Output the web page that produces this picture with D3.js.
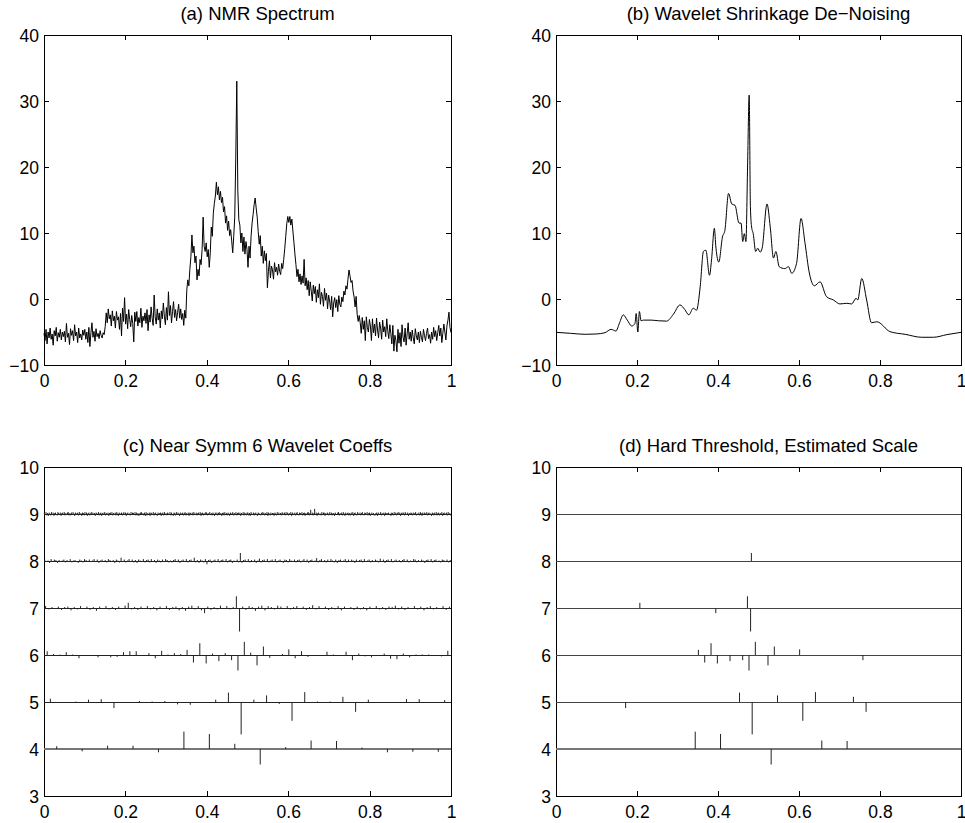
<!DOCTYPE html>
<html><head><meta charset="utf-8">
<script src="https://cdn.jsdelivr.net/npm/d3@7"></script>
<style>body{margin:0;background:#fff}svg{display:block;font-family:"Liberation Sans",Arial,Helvetica,sans-serif}</style>
</head><body>
<script>
// ---------- data ----------
const panelTitles = ["(a) NMR Spectrum", "(b) Wavelet Shrinkage De\u2212Noising", "(c) Near Symm 6 Wavelet Coeffs", "(d) Hard Threshold, Estimated Scale"];
const xTickValues = [0, 0.2, 0.4, 0.6, 0.8, 1];
const yTicksSpectrum = [-10, 0, 10, 20, 30, 40];
const yTicksCoeffs = [3, 4, 5, 6, 7, 8, 9, 10];

// (a) noisy NMR spectrum, evenly spaced on [0,1]
const nmrSpectrum = [
-5.2,-6.3,-4.6,-6.8,-5.0,-5.9,-4.4,-6.1,-5.3,-7.0,-4.8,-5.6,-4.3,-6.4,-5.1,-5.8,-4.6,-6.2,-5.0,-5.7,
-4.9,-6.5,-3.7,-5.8,-5.2,-6.9,-4.5,-5.5,-4.8,-6.3,-3.9,-5.6,-5.0,-6.6,-4.4,-5.9,-5.3,-6.2,-4.7,-5.5,
-4.6,-6.1,-5.0,-6.6,-4.3,-7.2,-5.1,-3.6,-5.8,-4.9,-6.4,-4.5,-5.7,-5.2,-6.0,-4.8,-5.5,-5.9,-5.1,-5.4,
-4.2,-2.1,-3.6,-1.5,-3.0,-2.4,-4.1,-1.8,-3.3,-2.6,-4.4,-1.9,-3.2,-2.7,-4.6,-2.2,-5.6,-1.4,-3.4,0.2,
-3.8,-2.3,-4.5,-1.6,-3.1,-4.2,-2.5,-3.7,-6.5,-2.0,-3.4,-1.9,-4.1,-2.8,-3.6,-1.4,-4.3,-2.6,-3.3,-2.1,
-3.7,-1.6,-4.8,-2.4,-3.5,-1.2,-2.9,-4.0,0.6,-2.7,-3.8,-1.5,-3.2,-2.1,-4.4,-1.8,-3.0,-0.6,-2.6,-3.9,
-1.3,-3.2,1.1,-2.5,-1.0,-3.6,-1.9,-0.4,-2.8,-1.6,-3.3,-2.0,-0.8,-2.9,-1.5,-3.1,-2.2,-4.0,-1.7,-2.9,
1.4,2.9,2.0,4.5,6.4,9.7,7.0,8.0,5.5,6.5,2.9,4.5,3.5,6.0,5.2,7.5,12.4,8.0,7.2,8.5,
6.4,7.5,4.8,7.0,10.9,9.5,13.0,14.5,15.6,17.7,15.8,17.0,15.0,16.3,14.6,15.4,13.2,14.0,11.5,12.6,
10.4,11.8,9.6,10.5,8.8,7.0,9.5,12.4,21.5,33.0,16.5,12.0,11.2,8.5,10.0,7.2,9.4,6.8,8.7,7.5,
4.8,8.0,6.2,9.5,11.5,12.8,14.3,15.3,13.8,12.4,10.2,8.3,9.6,6.5,8.0,5.4,7.3,5.8,6.9,1.7,
4.2,5.8,3.2,5.0,4.4,3.0,5.5,4.1,4.8,3.6,5.3,4.2,3.7,5.4,4.6,6.0,7.6,9.5,11.4,12.5,
11.6,12.5,11.2,12.1,10.3,8.6,6.8,5.2,3.4,4.5,2.6,3.8,2.2,3.5,2.4,6.0,2.0,3.2,1.4,2.8,
0.5,2.6,1.2,-0.3,2.1,0.8,1.9,-0.5,1.4,0.2,2.3,-0.8,1.0,0.4,-1.1,1.6,-0.2,0.9,-1.5,0.6,
-0.3,-1.6,0.4,-2.7,-0.6,0.2,-1.3,-0.1,-1.9,0.5,-0.8,-1.2,0.3,-0.4,1.2,0.6,2.0,1.5,3.0,4.4,
3.5,2.5,2.8,1.2,0.3,-1.2,0.4,-2.3,-3.4,-2.5,-3.6,-5.2,-2.8,-4.6,-3.3,-6.3,-2.7,-4.3,-5.0,-3.1,
-4.1,-6.3,-3.0,-5.1,-3.8,-5.6,-2.9,-4.7,-5.9,-3.5,-4.4,-6.1,-3.2,-5.0,-4.2,-5.7,-3.0,-4.8,-6.0,-3.9,
-5.2,-6.8,-4.0,-7.9,-5.5,-6.3,-8.0,-4.6,-6.7,-5.1,-7.2,-3.9,-5.8,-6.5,-4.4,-7.0,-5.3,-3.6,-6.1,-5.0,
-6.4,-4.7,-5.9,-6.8,-4.5,-5.6,-6.2,-5.0,-6.6,-4.9,-5.8,-6.5,-4.6,-5.5,-6.3,-5.2,-4.4,-6.0,-5.4,-6.7,
-5.0,-6.1,-4.3,-5.7,-4.8,-6.3,-5.1,-4.0,-5.6,-4.4,-6.6,-5.2,-3.8,-5.0,-6.2,-4.1,-3.2,-2.0,-4.3,-5.1
];

// (b) de-noised curve
const denoisedT = [0,0.036,0.072,0.100,0.121,0.136,0.148,0.157,0.166,0.176,0.187,0.195,0.198,0.202,0.206,0.210,0.216,0.235,0.253,0.273,0.290,0.306,0.318,0.328,0.339,0.347,0.356,0.364,0.370,0.379,0.384,0.391,0.395,0.402,0.411,0.417,0.426,0.434,0.442,0.452,0.457,0.461,0.465,0.469,0.473,0.477,0.480,0.483,0.487,0.493,0.498,0.504,0.509,0.521,0.529,0.537,0.543,0.551,0.565,0.574,0.582,0.594,0.605,0.615,0.625,0.638,0.652,0.668,0.685,0.701,0.718,0.730,0.741,0.745,0.755,0.767,0.779,0.792,0.825,0.862,0.903,0.932,0.965,1.0];
const denoisedV = [-5.05,-5.2,-5.35,-5.3,-5.1,-4.6,-4.85,-3.6,-2.4,-3.2,-4.1,-3.7,-2.2,-5.0,-1.9,-3.3,-3.2,-3.2,-3.3,-3.35,-2.3,-0.9,-1.6,-2.4,-1.4,-1.7,1.85,7.2,7.4,3.6,5.9,10.7,7.7,5.6,9.4,10.4,16.0,14.4,14.2,11.5,11.5,8.7,9.9,8.7,20.0,30.9,14.0,10.9,9.9,7.2,7.7,7.1,7.7,14.4,10.9,6.2,7.2,4.9,4.6,4.9,3.9,5.4,12.2,8.4,4.1,2.0,2.6,0.35,-0.15,-0.75,-0.65,-0.75,0.1,-0.15,3.1,-0.15,-3.6,-3.45,-4.95,-5.35,-5.8,-5.8,-5.4,-5.05];

// (c) wavelet coefficients per level, in hundredths of a level unit
const levels = [4, 5, 6, 7, 8, 9];
const coeffs4 = [6,-5,7,7,-7,37,32,11,-33,4,18,17,3,-7,-6,-6];
const coeffs5 = [7,-2,1,5,6,-13,-2,2,1,2,-5,-6,-2,5,20,-69, 5,14,-4,-40,21,1,1,11,-21,5,-2,-2,6,6,-1,4];
const coeffs6 = [8,2,1,6,1,-7,-2,-2,-5,-1,-5,-4,6,8,8,-2, 4,-7,9,1,4,2,11,-16,25,-18,3,-13,4,-11,-33,28,
  5,-22,18,-6,-2,2,12,-7,8,-4,-1,-1,7,1,-2,7, -11,3,-3,-5,-2,3,-8,-9,3,-5,1,1,1,-2,-3,9];
const coeffs7 = [4,-3,2,-2,3,-4,2,3,-5,2,-3,4,-2,3,-4,2, -6,3,-2,4,-3,2,-4,3,-2,5,11,-3,2,-4,3,-2,
  4,-3,2,-5,3,-2,4,-4,2,3,-5,2,-6,3,5,-3, 4,-5,-11,3,-4,2,-3,5,-2,4,-3,2,25,-50,3,-4,
  4,2,-6,3,5,-5,4,2,-3,5,3,-2,4,-3,2,4, -2,3,-4,2,6,-3,4,-2,3,-4,2,-3,4,-5,3,-2,
  2,-4,3,-3,2,-5,3,-2,4,-3,2,-4,3,2,5,-3, 3,-4,2,-2,4,-3,3,-5,2,4,-3,2,-2,4,-4,3];
const coeffs8 = [3,-2,1,-4,4,-1,3,2,-4,2,-2,1,3,-3,2,-1, 4,-3,1,2,-2,-4,3,1,-3,4,2,-1,3,-2,1,4,
  -2,3,-4,1,3,-2,2,-3,4,2,-1,2,-4,3,1,-3, 7,-2,3,-3,1,4,-2,3,-3,2,-4,3,1,-2,4,-3,
  2,3,-3,4,-1,2,-4,3,1,-3,3,-2,4,2,-3,1, -3,2,4,-2,3,-4,1,3,-2,4,-3,2,3,-1,7,-3,
  2,-4,3,1,-3,4,-7,2,3,-4,1,3,-2,4,-3,2, 3,-2,4,-3,2,3,-4,1,-2,3,-3,17,-4,2,3,-1,
  4,-3,2,-2,3,-4,1,5,-3,2,3,-2,4,-3,1,3, -2,4,-3,1,3,-2,-4,3,2,-3,4,1,-2,3,-3,2,
  3,-3,1,4,-2,3,-4,2,3,-2,1,6,-3,2,4,-2, 2,-3,3,-2,4,1,-3,3,-4,2,3,-2,1,4,-3,3,
  -2,3,1,-4,3,-2,2,3,-3,4,-2,1,3,-3,2,-2, 3,1,-3,5,-2,3,-4,2,3,-2,4,-3,1,3,-2,2,
  -3,2,4,-2,3,-3,1,-2,4,3,-3,2,-2,3,1,-4, 2,3,-2,4,-3,2,3,-2,1,-3,3,2,-2,3,-3,2];
const coeffs9 = [3,-2,4,-3,2,-4,3,1,-3,4,-2,3,-4,2,3,-2, -3,4,2,-2,3,-4,2,3,-2,4,-3,2,-1,3,4,-3,
  2,-3,3,-2,4,1,-4,3,-2,2,3,-3,4,-2,2,-4, 3,2,-3,4,-2,3,-4,2,3,-3,1,4,-2,3,-2,2,
  -4,3,2,-2,4,-3,2,3,-4,2,-2,3,4,-3,2,-2, 3,-4,2,3,-2,4,-3,2,-2,3,-3,4,1,-4,3,2,
  -2,3,-3,2,4,-2,3,-4,2,3,-2,1,-3,4,-2,3, 2,-2,4,-3,3,1,-4,2,-3,3,4,-2,2,-3,3,-4,
  4,-3,2,-2,3,-4,3,2,-2,4,-3,2,3,-2,-4,3, -2,2,3,-4,2,3,-3,4,-2,2,-3,3,1,-2,4,-3,
  3,-2,-4,3,2,-3,4,-2,3,1,-4,3,-2,2,3,-3, 2,4,-3,2,-2,3,-4,3,2,-2,3,-3,4,1,-2,3,
  -3,2,3,-2,4,-4,2,3,-3,2,-2,4,3,-3,2,-2, 4,-2,2,-3,3,1,-4,3,-2,3,-3,2,4,-2,2,-4,
  2,3,-3,4,-2,2,-3,3,1,-4,3,-2,2,4,-3,2, -2,4,-3,2,3,-2,3,-4,2,-2,4,-3,3,1,-3,3,
  3,-3,2,-4,4,1,-2,3,-3,2,3,-2,-4,3,2,-2, -3,2,4,-2,3,-3,2,-2,4,-4,3,1,-3,3,-2,2,
  2,-4,3,1,-3,4,-2,3,-2,2,-3,4,2,-2,3,-3, 4,-2,3,-3,2,-2,4,-4,3,1,-2,3,-3,2,4,-2,
  -3,3,2,-2,4,-3,2,3,-4,2,-2,3,4,-3,2,9, -2,3,-3,2,11,-2,3,-4,2,3,-2,1,-3,4,-2,3,
  3,-4,2,-2,3,1,-3,4,-2,3,-3,2,2,-4,3,-2, -2,3,4,-3,2,-2,3,-3,4,1,-4,3,-2,2,3,-3,
  2,-3,3,-2,4,-4,2,3,-2,-3,4,1,-2,3,-3,2, 4,-2,-3,3,2,-2,4,-3,2,3,-4,1,3,-2,2,-3,
  -3,2,3,-4,3,1,-2,4,-3,2,-2,3,-4,3,2,-2, 2,3,-2,1,-4,3,2,-3,4,-2,3,-3,2,4,-2,3,
  -4,2,3,-2,3,-3,4,1,-2,3,-4,2,-2,3,2,-3, 3,-2,2,4,-3,1,-2,3,-3,4,2,-4,3,-2,3,2,
  -2,4,-3,2,3,-2,1,-4,3,2,-3,3,-2,4,-3,2, 3,-3,2,-2,4,-4,2,3,-2,1,3,-3,4,-2,2,-3];

// (d) indices of the coefficients surviving the hard threshold
const kept4 = [5, 6, 8, 10, 11];
const kept5 = [5, 14, 15, 17, 19, 20, 23, 24];
const kept6 = [22, 23, 24, 25, 27, 29, 30, 31, 33, 34, 38, 48];
const kept7 = [26, 50, 60, 61];
const kept8 = [123];
const kept9 = [];

// ---------- drawing ----------
const svg = d3.select("body").append("svg").attr("width", 965).attr("height", 823);
const boxes = [
  {l: 44, r: 451, t: 35, b: 365},
  {l: 556, r: 961, t: 35, b: 365},
  {l: 44, r: 451, t: 467, b: 796},
  {l: 556, r: 961, t: 467, b: 796}
];
const fmt = d3.format("~g");
const FS = 17.5;

function makeAxes(i, ydom, yticks) {
  const box = boxes[i];
  const x = d3.scaleLinear().domain([0, 1]).range([box.l, box.r]);
  const y = d3.scaleLinear().domain(ydom).range([box.b, box.t]);
  const g = svg.append("g");
  const style = s => s.attr("font-size", FS).attr("font-family", '"Liberation Sans",Arial,Helvetica,sans-serif')
                       .call(a => a.select(".domain").remove())
                       .call(a => a.selectAll("line").attr("shape-rendering", "crispEdges"));
  g.append("g").attr("transform", `translate(0,${box.b})`)
    .call(d3.axisBottom(x).tickValues(xTickValues).tickSize(-5).tickFormat(fmt))
    .call(style).call(a => a.selectAll("text").attr("y", 22).attr("dy", null).attr("fill", "#000"));
  g.append("g").attr("transform", `translate(0,${box.t})`)
    .call(d3.axisTop(x).tickValues(xTickValues).tickSize(-5).tickFormat(""))
    .call(style);
  g.append("g").attr("transform", `translate(${box.l},0)`)
    .call(d3.axisLeft(y).tickValues(yticks).tickSize(-5).tickFormat(fmt))
    .call(style).call(a => a.selectAll("text").attr("x", -5).attr("dy", null).attr("y", 6).attr("fill", "#000"));
  g.append("g").attr("transform", `translate(${box.r},0)`)
    .call(d3.axisRight(y).tickValues(yticks).tickSize(-5).tickFormat(""))
    .call(style);
  g.append("rect").attr("x", box.l).attr("y", box.t).attr("width", box.r - box.l).attr("height", box.b - box.t)
    .attr("fill", "none").attr("stroke", "#000").attr("stroke-width", 1).attr("shape-rendering", "crispEdges");
  svg.append("text").attr("x", (box.l + box.r) / 2 + 10).attr("y", box.t - 15)
    .attr("text-anchor", "middle").attr("font-size", 18.5).attr("fill", "#000").text(panelTitles[i]);
  return {x, y};
}

// (a)
{
  const {x, y} = makeAxes(0, [-10, 40], yTicksSpectrum);
  const n = nmrSpectrum.length;
  svg.append("path").datum(nmrSpectrum)
    .attr("d", d3.line().x((d, i) => x(i / (n - 1))).y(d => y(d)))
    .attr("fill", "none").attr("stroke", "#000").attr("stroke-width", 1);
}
// (b)
{
  const {x, y} = makeAxes(1, [-10, 40], yTicksSpectrum);
  svg.append("path").datum(denoisedT.map((t, i) => [t, denoisedV[i]]))
    .attr("d", d3.line().x(d => x(d[0])).y(d => y(d[1])).curve(d3.curveMonotoneX))
    .attr("fill", "none").attr("stroke", "#000").attr("stroke-width", 1);
}
// (c) and (d)
const allCoeffs = {4: coeffs4, 5: coeffs5, 6: coeffs6, 7: coeffs7, 8: coeffs8, 9: coeffs9};
const allKept = {4: kept4, 5: kept5, 6: kept6, 7: kept7, 8: kept8, 9: kept9};

function drawCoeffPanel(i, thresholded) {
  const {x, y} = makeAxes(i, [3, 10], yTicksCoeffs);
  const g = svg.append("g");
  levels.forEach(j => {
    const c = allCoeffs[j];
    const n = Math.pow(2, j);
    g.append("line").attr("x1", x(0)).attr("x2", x(1)).attr("y1", y(j)).attr("y2", y(j))
      .attr("stroke", j === 4 ? "#777" : (thresholded ? "#444" : "#222"))
      .attr("stroke-width", j === 4 ? 2 : 1)
      .attr("shape-rendering", "crispEdges");
    const idx = thresholded ? allKept[j] : d3.range(n);
    g.selectAll(null).data(idx).join("line")
      .attr("x1", k => x((k + 0.5) / n)).attr("x2", k => x((k + 0.5) / n))
      .attr("y1", y(j)).attr("y2", k => y(j + c[k] / 100))
      .attr("stroke", "#222").attr("stroke-width", 1);
  });
}
drawCoeffPanel(2, false);
drawCoeffPanel(3, true);
</script>
</body></html>
